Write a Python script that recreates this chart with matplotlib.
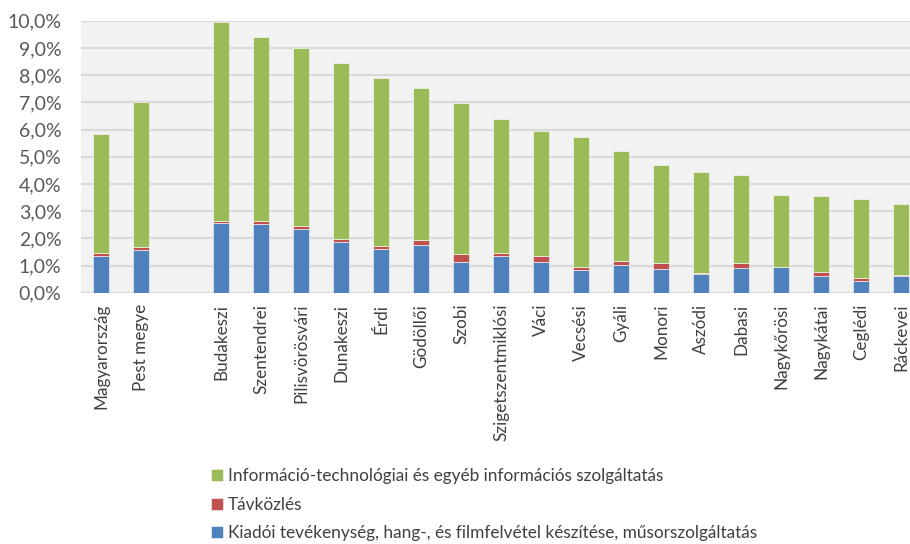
import numpy as np
import matplotlib.pyplot as plt
from matplotlib.ticker import FuncFormatter

plt.rcParams['font.family'] = ['Lato', 'DejaVu Sans']

# categories (empty slot separates national figures from districts)
categories = ["Magyarország", "Pest megye", "",
              "Budakeszi", "Szentendrei", "Pilisvörösvári", "Dunakeszi", "Érdi",
              "Gödöllői", "Szobi", "Szigetszentmiklósi", "Váci", "Vecsési", "Gyáli",
              "Monori", "Aszódi", "Dabasi", "Nagykőrösi", "Nagykátai", "Ceglédi",
              "Ráckevei"]

# shares in percent
kiadoi = [1.36, 1.58, 0,
          2.55, 2.51, 2.33, 1.88, 1.60, 1.77, 1.14, 1.34, 1.14, 0.85, 1.01,
          0.88, 0.70, 0.92, 0.94, 0.63, 0.44, 0.63]
tavkozles = [0.10, 0.11, 0,
             0.10, 0.13, 0.12, 0.11, 0.13, 0.18, 0.28, 0.13, 0.22, 0.11, 0.17,
             0.20, 0.01, 0.17, 0.01, 0.13, 0.11, 0.01]
total = [5.85, 7.02, 0,
         9.96, 9.40, 9.01, 8.43, 7.88, 7.53, 6.99, 6.37, 5.94, 5.74, 5.22,
         4.68, 4.45, 4.32, 3.60, 3.57, 3.43, 3.27]
infotech = [t - k - r for t, k, r in zip(total, kiadoi, tavkozles)]

labels = ["Információ-technológiai és egyéb információs szolgáltatás",
          "Távközlés",
          "Kiadói tevékenység, hang-, és filmfelvétel készítése, műsorszolgáltatás"]
colors = ["#9BBB59", "#C0504D", "#4F81BD"]

fig = plt.figure(figsize=(9.10, 5.44), dpi=100)
ax = fig.add_axes([81 / 910, 1 - 292.7 / 544, 840 / 910, 272 / 544])
ax.set_facecolor("#F2F2F2")

x = np.arange(len(categories))
w = 0.4
kw = dict(width=w, edgecolor="#FFFFFF", linewidth=0.4, zorder=3)
b1 = ax.bar(x, kiadoi, color=colors[2], **kw)
b2 = ax.bar(x, tavkozles, bottom=kiadoi, color=colors[1], **kw)
bot2 = [k + r for k, r in zip(kiadoi, tavkozles)]
b3 = ax.bar(x, infotech, bottom=bot2, color=colors[0], **kw)

ax.set_xlim(-0.5, len(categories) - 0.5)
ax.set_ylim(0, 10)
ax.set_yticks(np.arange(0, 10.5, 1))
ax.yaxis.set_major_formatter(FuncFormatter(lambda v, p: f"{v:.1f}%".replace(".", ",")))
ax.grid(axis="y", color="#D9D9D9", linewidth=1.5, zorder=0)
ax.set_axisbelow(True)
for s in ax.spines.values():
    s.set_visible(False)

ax.set_xticks(x)
ax.set_xticklabels(categories, rotation=90, fontsize=12.3, color="#404040")
ax.tick_params(axis="x", length=0, pad=8)
ax.tick_params(axis="y", length=0, pad=14, labelsize=14, labelcolor="#595959")

fig.legend([b3, b2, b1], labels, loc="upper left",
           bbox_to_anchor=(211 / 910, 1 - 468 / 544), frameon=False,
           handlelength=0.7, handleheight=0.7, handletextpad=0.3,
           labelspacing=0.73, fontsize=12.4, labelcolor="#404040",
           borderaxespad=0, borderpad=0)

fig.savefig("out.png", dpi=100)
